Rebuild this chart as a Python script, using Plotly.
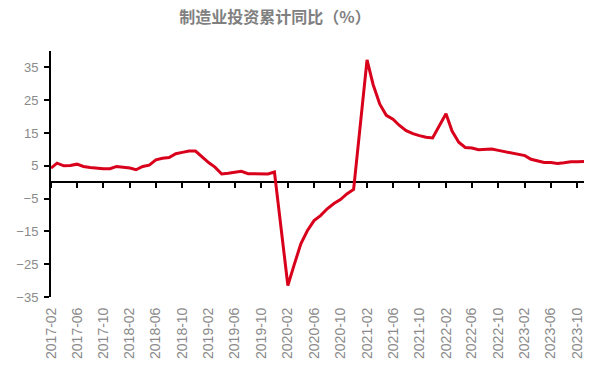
import plotly.graph_objects as go

years = [2017, 2018, 2019, 2020, 2021, 2022, 2023]
months = [2, 3, 4, 5, 6, 7, 8, 9, 10, 11, 12]

vals_2017 = [4.3, 5.8, 5.0, 5.1, 5.5, 4.8, 4.5, 4.2, 4.1, 4.1, 4.8]
vals_2018 = [4.3, 3.8, 4.8, 5.2, 6.8, 7.3, 7.5, 8.7, 9.1, 9.5, 9.5]
vals_2019 = [5.9, 4.6, 2.5, 2.7, 3.0, 3.3, 2.6, 2.5, 2.6, 2.5, 3.1]
vals_2020 = [-31.5, -25.2, -18.8, -14.8, -11.7, -10.2, -8.1, -6.5, -5.3, -3.5, -2.2]
vals_2021 = [37.3, 29.8, 23.8, 20.4, 19.2, 17.3, 15.7, 14.8, 14.2, 13.7, 13.5]
vals_2022 = [20.9, 15.6, 12.2, 10.6, 10.4, 9.9, 10.0, 10.1, 9.7, 9.3, 9.1]
vals_2023 = [8.1, 7.0, 6.4, 6.0, 6.0, 5.7, 5.9, 6.2, 6.2, 6.3]

all_vals = [vals_2017, vals_2018, vals_2019, vals_2020, vals_2021, vals_2022, vals_2023]
dates, values = [], []
for y, vs in zip(years, all_vals):
    for m, v in zip(months, vs):
        dates.append(f"{y}-{m:02d}-01")
        values.append(v)

y_ticks = [-35, -25, -15, -5, 5, 15, 25, 35]
y_range = [-35, 40]
x_range = [dates[0], dates[-1]]

fig = go.Figure()
fig.add_trace(go.Scatter(x=dates, y=values, mode="lines",
                         line=dict(color="#d9001b", width=3),
                         xaxis="x2", yaxis="y", hoverinfo="skip"))
fig.add_trace(go.Scatter(x=dates, y=values, mode="lines",
                         line=dict(color="rgba(0,0,0,0)", width=0),
                         xaxis="x", yaxis="y", hoverinfo="skip"))

zero_pos = (0 - y_range[0]) / (y_range[1] - y_range[0])

W, H = 597, 377
fig.update_layout(
    width=W, height=H,
    margin=dict(l=43, r=21, t=43, b=88, autoexpand=False),
    paper_bgcolor="white", plot_bgcolor="white",
    showlegend=False,
    title=dict(text="<b>制造业投资累计同比（%）</b>", x=267/W, xanchor="center",
               y=1 - 4/H, yanchor="top", pad=dict(t=0),
               font=dict(family="Noto Sans CJK SC", size=16, color="#808080")),
    xaxis=dict(type="date", range=x_range, tick0=dates[0], dtick="M4",
               tickformat="%Y-%m", tickangle=-90, showgrid=False, zeroline=False,
               showline=False, ticks="outside", ticklen=4, tickcolor="rgba(0,0,0,0)",
               automargin=False,
               tickfont=dict(family="Liberation Sans", size=14, color="#8a8a8a")),
    xaxis2=dict(type="date", range=x_range, tick0=dates[0], dtick="M4",
                overlaying="x", anchor="free", position=zero_pos,
                showticklabels=False, showgrid=False, zeroline=False,
                showline=True, linecolor="black", linewidth=2,
                ticks="outside", ticklen=5, tickwidth=2, tickcolor="black",
                layer="below traces"),
    yaxis=dict(range=y_range, tickvals=y_ticks, showgrid=False, zeroline=False,
               showline=True, linecolor="black", linewidth=2,
               ticks="outside", ticklen=5, tickwidth=2, tickcolor="black",
               ticklabelstandoff=3, automargin=False,
               tickfont=dict(family="Liberation Sans", size=13, color="#8a8a8a")),
)

fig.write_html("out.html")
